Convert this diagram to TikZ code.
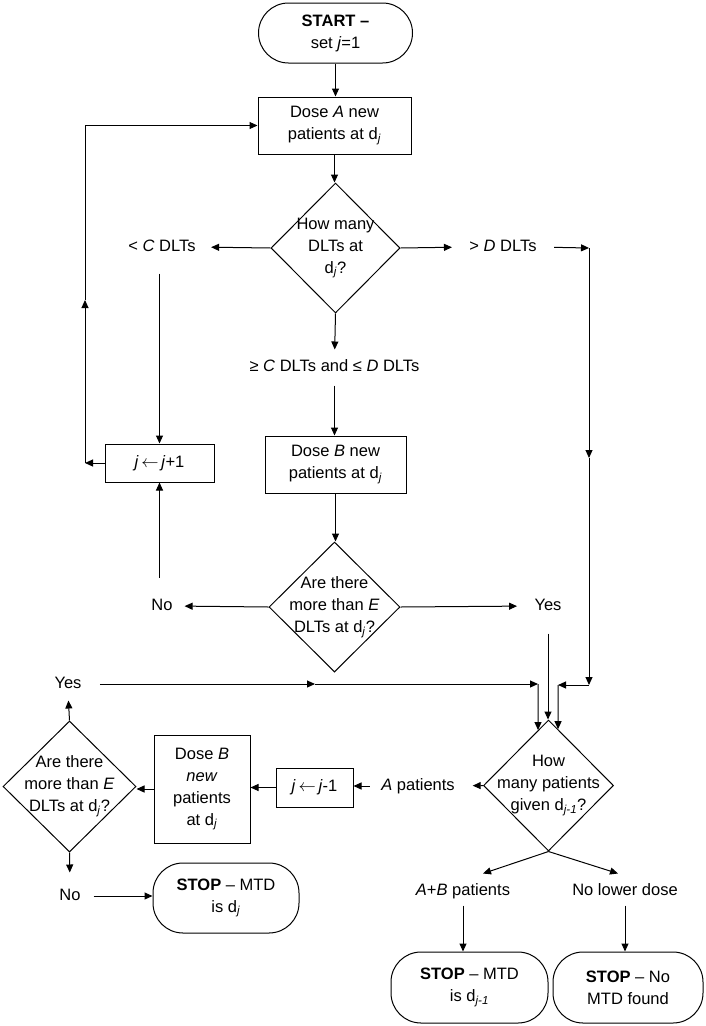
\documentclass[tikz,border=0pt]{standalone}
\usepackage{fontspec}
\setmainfont{Liberation Sans}
\usetikzlibrary{shapes.geometric,arrows.meta,calc}
\newcommand{\myDj}{d\textsubscript{\textit{j}}}
\newcommand{\myDjm}{d\textsubscript{\textit{j-1}}}
\begin{document}
\begin{tikzpicture}[x=1pt,y=-1pt, line width=1pt, font=\fontsize{16.5}{22}\selectfont,
 box/.style={draw, rectangle, align=center, inner sep=0pt},
 term/.style={draw, rectangle, rounded corners=30pt, align=center, inner sep=0pt},
 dia/.style={draw, diamond, inner sep=0pt},
 lbl/.style={inner sep=0pt, text height=12pt, text depth=4pt},
 dtext/.style={align=center, inner sep=0pt},
 arr/.style={-{Triangle[length=8pt,width=7pt]}}]
\useasboundingbox (0,0) rectangle (705,1026);

% nodes
\node[term, minimum width=154pt, minimum height=60pt] (start) at (335.5,33) {\textbf{START –}\\set \textit{j}=1};
\node[box, minimum width=153pt, minimum height=57pt] (boxA) at (334.5,125.5) {Dose \textit{A} new\\patients at \myDj};
\node[dia, minimum width=129pt, minimum height=130pt, label={[dtext]center:{How many\\DLTs at\\\myDj?}}] (d1) at (335.5,248) {};
\node[lbl] (lessC) at (162,247) {< \textit{C} DLTs};
\node[lbl] (moreD) at (503,247) {> \textit{D} DLTs};
\node[lbl] (mid1) at (334.5,367) {≥ \textit{C} DLTs and ≤ \textit{D} DLTs};
\node[box, minimum width=141pt, minimum height=57pt] (boxB) at (335.5,464.5) {Dose \textit{B} new\\patients at \myDj};
\node[box, minimum width=109pt, minimum height=38pt] (jbox) at (159.5,463) {\textit{j}\,$\leftarrow$\,\textit{j}+1};
\node[dia, minimum width=131pt, minimum height=130pt, label={[dtext]center:{Are there\\more than \textit{E}\\DLTs at \myDj?}}] (d2) at (334.5,607) {};
\node[lbl] (noR) at (162,606) {No};
\node[lbl] (yesR) at (548,606) {Yes};
\node[dia, minimum width=130pt, minimum height=131pt, label={[dtext]center:{How\\many patients\\given \myDjm?}}] (d3) at (548.5,785.5) {};
\node[lbl] (aP) at (418,786) {\textit{A} patients};
\node[box, minimum width=77pt, minimum height=39pt] (jm) at (314.5,787.5) {\textit{j}\,$\leftarrow$\,\textit{j}-1};
\node[box, minimum width=96pt, minimum height=108pt] (b2) at (202,789) {Dose \textit{B}\\\textit{new}\\patients\\at \myDj};
\node[dia, minimum width=133pt, minimum height=131pt, label={[dtext]center:{Are there\\more than \textit{E}\\DLTs at \myDj?}}] (d4) at (69.5,786.5) {};
\node[lbl] (yesL) at (68,684) {Yes};
\node[lbl] (noL) at (70,896) {No};
\node[term, minimum width=146pt, minimum height=70pt] (stopL) at (226,898) {\textbf{STOP} – MTD\\is \myDj};
\node[lbl] (abP) at (463,891) {\textit{A}+\textit{B} patients};
\node[lbl] (nld) at (625,891) {No lower dose};
\node[term, minimum width=157pt, minimum height=71pt] (stopM) at (469.5,987.5) {\textbf{STOP} – MTD\\is \myDjm};
\node[term, minimum width=150pt, minimum height=71pt] (stopN) at (628,987.5) {\textbf{STOP} – No\\MTD found};

% bend coordinates
\coordinate (cR1) at (589,248);
\coordinate (cR2) at (589,458);
\coordinate (cR3) at (589,685);
\coordinate (cR4) at (558,685);
\coordinate (cL1) at (85,463);
\coordinate (cL2) at (85,300);
\coordinate (cYm) at (315,684);
\coordinate (cY) at (538,684);

% connectors
\draw[arr] (start.south) -- (start.south |- boxA.north);
\draw[arr] (boxA.south) -- (boxA.south |- d1.north);
\draw[arr, shorten >=15pt] (d1.west) -- (lessC.east);
\draw[arr, shorten >=17pt] (d1.east) -- (moreD.west);
\draw[arr, shorten <=17pt] (moreD.east) -- (cR1);
\draw[arr] (cR1) -- (cR2);
\draw[arr] (cR2) -- (cR3);
\draw[arr] (cR3) -- (cR4);
\draw[arr] (cR4) -- ($(d3.north)!0.146!(d3.east)$);
\draw[arr, shorten >=9pt] (d1.south) -- (mid1.north);
\draw[arr, shorten <=10pt] (mid1.south) -- (mid1.south |- boxB.north);
\draw[arr, shorten <=18pt] (jbox.north |- lessC.south) -- (jbox.north);
\draw[arr] (jbox.west) -- (cL1);
\draw[arr] (cL1) -- (cL2);
\draw[arr] (cL2) -- (cL2 |- boxA.west) -- (boxA.west);
\draw[arr] (boxB.south) -- (boxB.south |- d2.north);
\draw[arr, shorten >=11.5pt] (d2.west) -- (noR.east);
\draw[arr, shorten <=20pt] (jbox.south |- noR.north) -- (jbox.south);
\draw[arr, shorten >=17pt] (d2.east) -- (yesR.west);
\draw[arr, shorten <=19pt] (yesR.south) -- (yesR.south |- d3.north);
\draw[arr, shorten >=17.5pt] (d3.west) -- (aP.east);
\draw[arr, shorten <=11pt] (aP.west) -- (aP.west -| jm.east);
\draw[arr] (jm.west) -- (jm.west -| b2.east);
\draw[arr] (b2.west) -- (b2.west -| d4.east);
\draw[arr, shorten >=8pt] (d4.north) -- (yesL.south);
\draw[arr, shorten <=18pt] (yesL.east) -- (cYm);
\draw[arr] (cYm) -- (cY);
\draw[arr] (cY) -- ($(d3.north)!0.16!(d3.west)$);
\draw[arr, shorten >=15pt] (d4.south) -- (noL.north);
\draw[arr, shorten <=12.5pt] (noL.east) -- (noL.east -| stopL.west);
\draw[arr] (d3.south) -- ([xshift=20pt,yshift=9pt]abP.north);
\draw[arr] (d3.south) -- ([xshift=-7pt,yshift=9pt]nld.north);
\draw[arr, shorten <=6pt] (abP.south) -- (abP.south |- stopM.north);
\draw[arr, shorten <=6pt] (nld.south) -- (nld.south |- stopN.north);
\end{tikzpicture}
\end{document}
